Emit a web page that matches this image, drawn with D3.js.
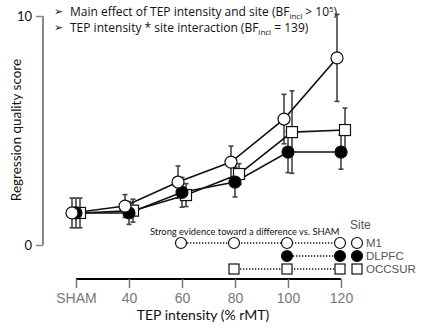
<!DOCTYPE html>
<html><head><meta charset="utf-8">
<script src="https://cdn.jsdelivr.net/npm/d3@7"></script>
<style>body{margin:0;background:#fff}svg{display:block}</style>
</head><body><svg id="c" width="421" height="328"></svg>
<script>
const categories = ["SHAM","40","60","80","100","120"];
const sites = ["M1","DLPFC","OCCSUR"];
const m1Values    = [1.4, 1.7, 2.75, 3.62, 5.5, 8.17];
const m1Err       = [0.65, 0.5, 0.7, 0.7, 1.08, 1.9];
const dlpfcValues = [1.4, 1.4, 2.3, 2.75, 4.06, 4.06];
const dlpfcErr    = [0.65, 0.5, 0.65, 0.65, 0.9, 0.75];
const occValues   = [1.4, 1.5, 2.18, 3.1, 4.93, 5.02];
const occErr      = [0.65, 0.5, 0.5, 0.45, 1.8, 0.96];
const yTicks = [0, 10];
// conditions with strong evidence vs SHAM, per site
const m1Sig    = ["60","80","100","120"];
const dlpfcSig = ["100","120"];
const occSig   = ["80","100","120"];

const svg = d3.select("#c");
const x = d3.scalePoint().domain(categories).range([76, 341]);
const y = d3.scaleLinear().domain([0, 10]).range([245, 16]);
const dodge = {M1: -4, DLPFC: 0, OCCSUR: 4};

const series = [
  {site: "M1", vals: m1Values, err: m1Err, shape: "circle", fill: "#fff", sig: m1Sig},
  {site: "DLPFC", vals: dlpfcValues, err: dlpfcErr, shape: "circle", fill: "#000", sig: dlpfcSig},
  {site: "OCCSUR", vals: occValues, err: occErr, shape: "square", fill: "#fff", sig: occSig}
];

// Y axis
const yAxis = d3.axisLeft(y).tickValues(yTicks).tickSize(7).tickFormat(d3.format("d"));
const gy = svg.append("g").attr("transform", "translate(43,0)").call(yAxis);
gy.select(".domain").attr("d", "M0," + y(10) + "V" + y(0)).attr("stroke", "#888").attr("stroke-width", 2);
gy.selectAll(".tick line").attr("stroke", "#888").attr("stroke-width", 1.5);
gy.selectAll(".tick text").attr("font-family", "Lato, sans-serif").attr("font-size", 13).attr("fill", "#111").attr("x", -11).attr("dy", "0.35em");

// X axis
const xAxis = d3.axisBottom(x).tickSize(9).tickPadding(5);
const gx = svg.append("g").attr("transform", "translate(0,279)").call(xAxis);
gx.select(".domain").attr("d", "M" + x("SHAM") + ",0H" + x("120")).attr("stroke", "#000").attr("stroke-width", 2);
gx.selectAll(".tick line").attr("stroke", "#777").attr("stroke-width", 1.5);
gx.selectAll(".tick text").attr("font-family", "Liberation Sans, Arial, sans-serif").attr("font-size", 14).attr("fill", "#777");

// Axis titles
svg.append("text").attr("transform", "translate(21,130) rotate(-90)").attr("text-anchor", "middle")
  .attr("font-family", "Lato, sans-serif").attr("font-size", 13.5).attr("fill", "#111").text("Regression quality score");
svg.append("text").attr("x", 203).attr("y", 320).attr("text-anchor", "middle")
  .attr("font-family", "Lato, sans-serif").attr("font-size", 14).attr("fill", "#111").text("TEP intensity (% rMT)");

// Error bars
series.forEach(s => {
  const g = svg.append("g");
  categories.forEach((c, i) => {
    const cx = x(c) + dodge[s.site];
    const top = y(s.vals[i] + s.err[i]), bot = y(s.vals[i] - s.err[i]);
    g.append("line").attr("x1", cx).attr("x2", cx).attr("y1", top).attr("y2", bot).attr("stroke", "#444").attr("stroke-width", 1.6);
    [top, bot].forEach(yy => g.append("line").attr("x1", cx - 2.5).attr("x2", cx + 2.5).attr("y1", yy).attr("y2", yy).attr("stroke", "#444").attr("stroke-width", 1.6));
  });
});

// Lines
const line = d3.line().x(d => d[0]).y(d => d[1]);
series.forEach(s => {
  const pts = categories.map((c, i) => [x(c) + dodge[s.site], y(s.vals[i])]);
  svg.append("path").attr("d", line(pts)).attr("fill", "none").attr("stroke", "#111").attr("stroke-width", 1.6);
});

function marker(g, shape, cx, cy, fill, sz) {
  if (shape === "circle") {
    g.append("circle").attr("cx", cx).attr("cy", cy).attr("r", sz).attr("fill", fill).attr("stroke", "#111").attr("stroke-width", 1.2);
  } else {
    g.append("rect").attr("x", cx - sz).attr("y", cy - sz).attr("width", sz * 2).attr("height", sz * 2).attr("fill", fill).attr("stroke", "#111").attr("stroke-width", 1.2);
  }
}

// Markers (draw OCC, DLPFC, then M1 on top)
[series[2], series[1], series[0]].forEach(s => {
  const g = svg.append("g");
  categories.forEach((c, i) => marker(g, s.shape, x(c) + dodge[s.site], y(s.vals[i]), s.fill, s.shape === "circle" ? 6 : 5.5));
});

// Significance rows + legend
const rowY = {M1: 243, DLPFC: 256, OCCSUR: 269};
svg.append("text").attr("x", 150).attr("y", 235).attr("font-family", "Lato, sans-serif").attr("font-size", 9.3).attr("fill", "#111")
  .text("Strong evidence toward a difference vs. SHAM");
series.forEach(s => {
  const g = svg.append("g");
  const xs = s.sig.map(c => x(c) - 1);
  g.append("line").attr("x1", xs[0]).attr("x2", xs[xs.length - 1]).attr("y1", rowY[s.site]).attr("y2", rowY[s.site])
    .attr("stroke", "#111").attr("stroke-width", 1.3).attr("stroke-dasharray", "1.3,1.7");
  xs.forEach(xx => marker(g, s.shape, xx, rowY[s.site], s.fill, s.shape === "circle" ? 5.5 : 5));
  marker(g, s.shape, 357, rowY[s.site], s.fill, s.shape === "circle" ? 5.5 : 5);
  g.append("text").attr("x", 366).attr("y", rowY[s.site] + 4).attr("font-family", "Liberation Sans, Arial, sans-serif")
    .attr("font-size", 11.5).attr("fill", "#555").text(s.site);
});
svg.append("text").attr("x", 350).attr("y", 229).attr("font-family", "Liberation Sans, Arial, sans-serif")
  .attr("font-size", 12).attr("fill", "#555").text("Site");

// Top annotations
const ann = svg.append("g").attr("font-family", "Open Sans, sans-serif").attr("font-size", 12).attr("fill", "#111");
ann.append("text").attr("x", 54).attr("y", 15).attr("font-size", 11).text("➢");
ann.append("text").attr("x", 54).attr("y", 31).attr("font-size", 11).text("➢");
const t1 = ann.append("text").attr("x", 70).attr("y", 16);
t1.append("tspan").text("Main effect of TEP intensity and site (BF");
t1.append("tspan").attr("font-size", 8).attr("dy", 2.5).text("incl");
t1.append("tspan").attr("dy", -2.5).text(" > 10");
t1.append("tspan").attr("font-size", 8).attr("dy", -4).text("5");
t1.append("tspan").attr("dy", 4).text(")");
const t2 = ann.append("text").attr("x", 70).attr("y", 32);
t2.append("tspan").text("TEP intensity * site interaction  (BF");
t2.append("tspan").attr("font-size", 8).attr("dy", 2.5).text("incl");
t2.append("tspan").attr("dy", -2.5).text(" = 139)");
</script></body></html>
